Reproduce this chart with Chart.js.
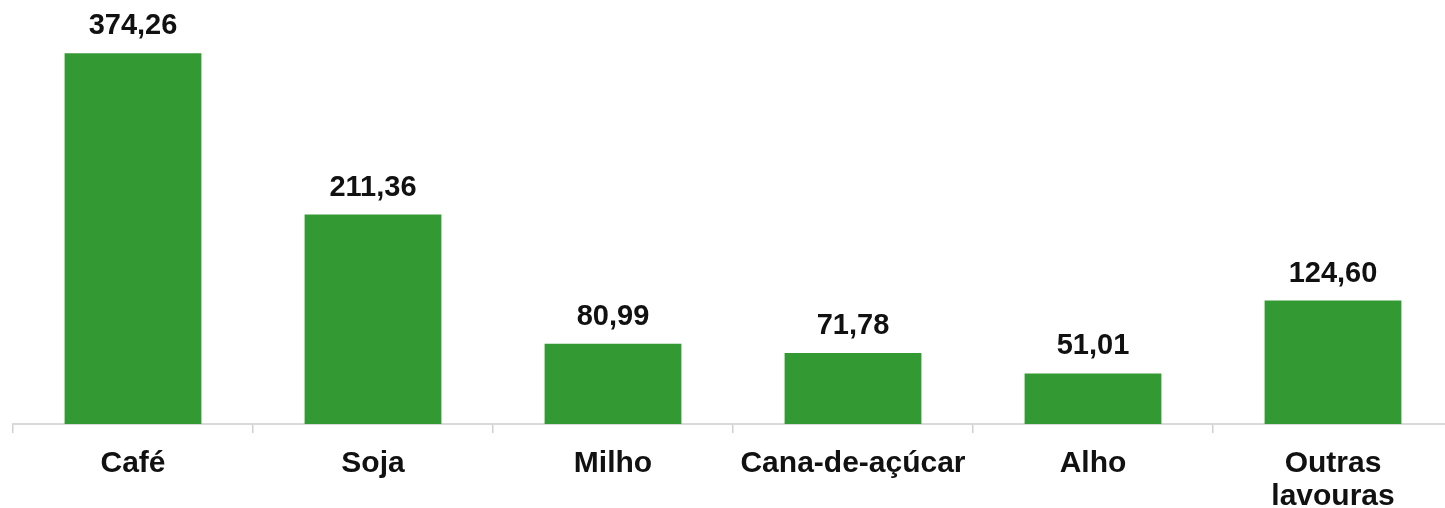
<!DOCTYPE html>
<html>
<head>
<meta charset="utf-8">
<script src="https://cdn.jsdelivr.net/npm/chart.js@4/dist/chart.umd.min.js"></script>
<style>
  html, body { margin: 0; padding: 0; background: #fff; overflow: hidden; }
  #wrap { width: 1460px; height: 530px; position: relative; }
</style>
</head>
<body>
<div id="wrap"><canvas id="myChart"></canvas></div>
<script>
// dados do gráfico
var categorias = ['Café', 'Soja', 'Milho', 'Cana-de-açúcar', 'Alho', ['Outras', 'lavouras']];
var valores = [374.26, 211.36, 80.99, 71.78, 51.01, 124.60];

function fmt(v) {
  return v.toFixed(2).replace('.', ',');
}

// rótulos em cima das barras
var rotulos = {
  id: 'rotulos',
  afterDatasetsDraw: function (chart) {
    var ctx = chart.ctx;
    var meta = chart.getDatasetMeta(0);
    ctx.save();
    ctx.font = 'bold 29px "Liberation Sans", Arial, sans-serif';
    ctx.fillStyle = '#111';
    ctx.textAlign = 'center';
    ctx.textBaseline = 'alphabetic';
    meta.data.forEach(function (bar, i) {
      ctx.fillText(fmt(valores[i]), bar.x, bar.y - 19);
    });
    ctx.restore();
  }
};

var ctx = document.getElementById('myChart').getContext('2d');
var myChart = new Chart(ctx, {
  type: 'bar',
  data: {
    labels: categorias,
    datasets: [{
      data: valores,
      backgroundColor: '#339933',
      categoryPercentage: 1,
      barPercentage: 0.57
    }]
  },
  options: {
    responsive: true,
    maintainAspectRatio: false,
    animation: false,
    layout: { padding: { left: 13, right: 7, top: 0, bottom: 0 } },
    plugins: { legend: { display: false }, tooltip: { enabled: false } },
    scales: {
      x: {
        afterFit: function (s) { s.height = 106; },
        grid: {
          display: true,
          offset: true,
          drawOnChartArea: false,
          drawTicks: true,
          tickLength: 9,
          color: '#d0d0d0',
          lineWidth: 1.5
        },
        border: { display: true, color: '#d9d9d9', width: 2 },
        ticks: {
          color: '#111',
          padding: 14,
          maxRotation: 0,
          autoSkip: false,
          font: { family: '"Liberation Sans", Arial, sans-serif', size: 30, weight: 'bold', lineHeight: 1.1 }
        }
      },
      y: {
        display: false,
        min: 0,
        max: 428
      }
    }
  },
  plugins: [rotulos]
});
</script>
</body>
</html>
